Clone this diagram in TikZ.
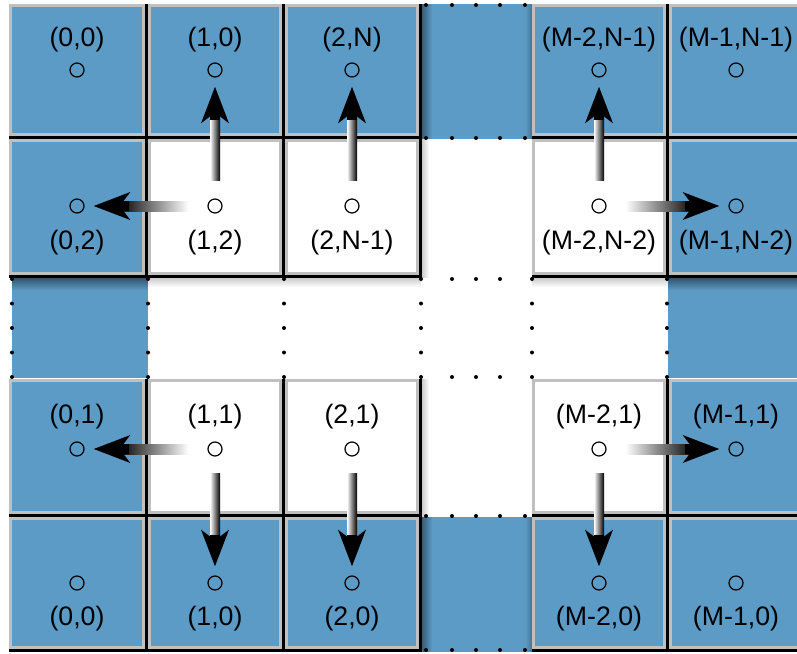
\documentclass[tikz,border=0pt]{standalone}
\usepackage{fontspec}
\setmainfont{Liberation Sans}
\usetikzlibrary{arrows.meta,fadings}
\definecolor{cellblue}{RGB}{92,155,198}
\definecolor{cellgray}{RGB}{192,192,192}
\newcommand\mycell[5]{%
  \draw[cellgray, line width=3pt, fill=#5] (#1+1.5,#2+1.5) rectangle (#3-4.5,#4-4.5);
  \draw[black, line width=3pt] (#3-1.5,#2) -- (#3-1.5,#4-1.5) -- (#1,#4-1.5);
}
\tikzset{
  pt/.style={circle, draw, line width=1.2pt, minimum size=14pt, inner sep=0pt},
  lbl/.style={font=\fontsize{26.7}{32}\selectfont, inner sep=0pt},
  shaft/.style={rectangle, inner sep=0pt, minimum width=70pt, minimum height=10pt,
    left color=white, right color=black, sloped, allow upside down},
  shaftrev/.style={rectangle, inner sep=0pt, minimum width=70pt, minimum height=10pt,
    left color=black, right color=white, sloped, allow upside down},
  head/.style={line width=10pt, -{Stealth[length=36pt, width=27pt, inset=10pt]},
    shorten <=78pt, shorten >=9pt},
  dotmark/.style={fill=black},
}
\begin{document}
\begin{tikzpicture}[x=1pt,y=-1pt]
\useasboundingbox (0,0) rectangle (797,653);
\clip (0,0) rectangle (797,653);
\fill[white] (0,0) rectangle (797,653);

% gap fills
\fill[cellblue] (422,4) rectangle (532,139);
\fill[cellblue] (422,517) rectangle (532,652);
\fill[cellblue] (12,276) rectangle (148,378);
\fill[cellblue] (668,276) rectangle (806,378);

% row 0
\mycell{9}{4}{148}{139}{cellblue}
\mycell{148}{4}{285}{139}{cellblue}
\mycell{285}{4}{422}{139}{cellblue}
\mycell{532}{4}{669}{139}{cellblue}
\mycell{669}{4}{806}{139}{cellblue}
% row 1
\mycell{9}{139}{148}{278}{cellblue}
\mycell{148}{139}{285}{278}{white}
\mycell{285}{139}{422}{278}{white}
\mycell{532}{139}{669}{278}{white}
\mycell{669}{139}{806}{278}{cellblue}
% row 3
\mycell{9}{379}{148}{517}{cellblue}
\mycell{148}{379}{285}{517}{white}
\mycell{285}{379}{422}{517}{white}
\mycell{532}{379}{669}{517}{white}
\mycell{669}{379}{806}{517}{cellblue}
% row 4
\mycell{9}{517}{148}{652}{cellblue}
\mycell{148}{517}{285}{652}{cellblue}
\mycell{285}{517}{422}{652}{cellblue}
\mycell{532}{517}{669}{652}{cellblue}
\mycell{669}{517}{806}{652}{cellblue}

% shadows
\fill[black, opacity=0.45, path fading=south] (12,278) rectangle (148,290);
\fill[black, opacity=0.45, path fading=south] (668,278) rectangle (806,290);
\fill[black, opacity=0.2, path fading=south] (148,278) rectangle (421,287);
\fill[black, opacity=0.2, path fading=south] (532,278) rectangle (668,287);
\fill[black, opacity=0.4, path fading=east] (422,4) rectangle (432,139);
\fill[black, opacity=0.4, path fading=east] (422,517) rectangle (432,652);
\fill[black, opacity=0.25, path fading=west] (525,4) rectangle (532,139);
\fill[black, opacity=0.25, path fading=west] (525,517) rectangle (532,652);
\fill[black, opacity=0.2, path fading=east] (422,139) rectangle (429,278);
\fill[black, opacity=0.2, path fading=east] (422,379) rectangle (429,517);

% dotted borders
\foreach \x in {12,148,284,421,532,667}
  \foreach \y in {279,303.5,328,352.5,377}
    \fill[dotmark] (\x,\y) circle (2pt);
\foreach \y in {5,138,516,650}
  \foreach \x in {426,452,476,500,525}
    \fill[dotmark] (\x,\y) circle (2pt);
\foreach \y in {279,377}
  \foreach \x in {452,476,500}
    \fill[dotmark] (\x,\y) circle (2pt);

% points
\node[pt] (pA0) at (77,70) {};
\node[pt] (pA1) at (215,70) {};
\node[pt] (pA2) at (352,70) {};
\node[pt] (pA4) at (599,70) {};
\node[pt] (pA5) at (736,70) {};
\node[pt] (pB0) at (77,206) {};
\node[pt] (pB1) at (215,206) {};
\node[pt] (pB2) at (352,206) {};
\node[pt] (pB4) at (599,206) {};
\node[pt] (pB5) at (736,206) {};
\node[pt] (pC0) at (77,449) {};
\node[pt] (pC1) at (215,449) {};
\node[pt] (pC2) at (352,449) {};
\node[pt] (pC4) at (599,449) {};
\node[pt] (pC5) at (736,449) {};
\node[pt] (pD0) at (77,583) {};
\node[pt] (pD1) at (215,583) {};
\node[pt] (pD2) at (352,583) {};
\node[pt] (pD4) at (599,583) {};
\node[pt] (pD5) at (736,583) {};

% labels
\node[lbl] (lA0) at (77,40) {(0,0)};
\node[lbl] (lA1) at (215,40) {(1,0)};
\node[lbl] (lA2) at (352,40) {(2,N)};
\node[lbl] (lA4) at (599,40) {(M-2,N-1)};
\node[lbl] (lA5) at (736,40) {(M-1,N-1)};
\node[lbl] (lB0) at (77,243) {(0,2)};
\node[lbl] (lB1) at (215,243) {(1,2)};
\node[lbl] (lB2) at (352,243) {(2,N-1)};
\node[lbl] (lB4) at (599,243) {(M-2,N-2)};
\node[lbl] (lB5) at (736,243) {(M-1,N-2)};
\node[lbl] (lC0) at (77,417) {(0,1)};
\node[lbl] (lC1) at (215,417) {(1,1)};
\node[lbl] (lC2) at (352,417) {(2,1)};
\node[lbl] (lC4) at (599,417) {(M-2,1)};
\node[lbl] (lC5) at (736,417) {(M-1,1)};
\node[lbl] (lD0) at (77,619) {(0,0)};
\node[lbl] (lD1) at (215,619) {(1,0)};
\node[lbl] (lD2) at (352,619) {(2,0)};
\node[lbl] (lD4) at (599,619) {(M-2,0)};
\node[lbl] (lD5) at (736,619) {(M-1,0)};

% arrows
\path (pB1) -- node[shaft, pos=0.44] (s1) {} (pA1);
\draw[head] (pB1) -- (pA1);
\path (pB1) -- node[shaftrev, pos=0.44] (s2) {} (pB0);
\draw[head] (pB1) -- (pB0);
\path (pB2) -- node[shaft, pos=0.44] (s3) {} (pA2);
\draw[head] (pB2) -- (pA2);
\path (pB4) -- node[shaft, pos=0.44] (s4) {} (pA4);
\draw[head] (pB4) -- (pA4);
\path (pB4) -- node[shaft, pos=0.44] (s5) {} (pB5);
\draw[head] (pB4) -- (pB5);
\path (pC1) -- node[shaftrev, pos=0.44] (s6) {} (pC0);
\draw[head] (pC1) -- (pC0);
\path (pC1) -- node[shaft, pos=0.44] (s7) {} (pD1);
\draw[head] (pC1) -- (pD1);
\path (pC2) -- node[shaft, pos=0.44] (s8) {} (pD2);
\draw[head] (pC2) -- (pD2);
\path (pC4) -- node[shaft, pos=0.44] (s9) {} (pD4);
\draw[head] (pC4) -- (pD4);
\path (pC4) -- node[shaft, pos=0.44] (s10) {} (pC5);
\draw[head] (pC4) -- (pC5);
\end{tikzpicture}
\end{document}
